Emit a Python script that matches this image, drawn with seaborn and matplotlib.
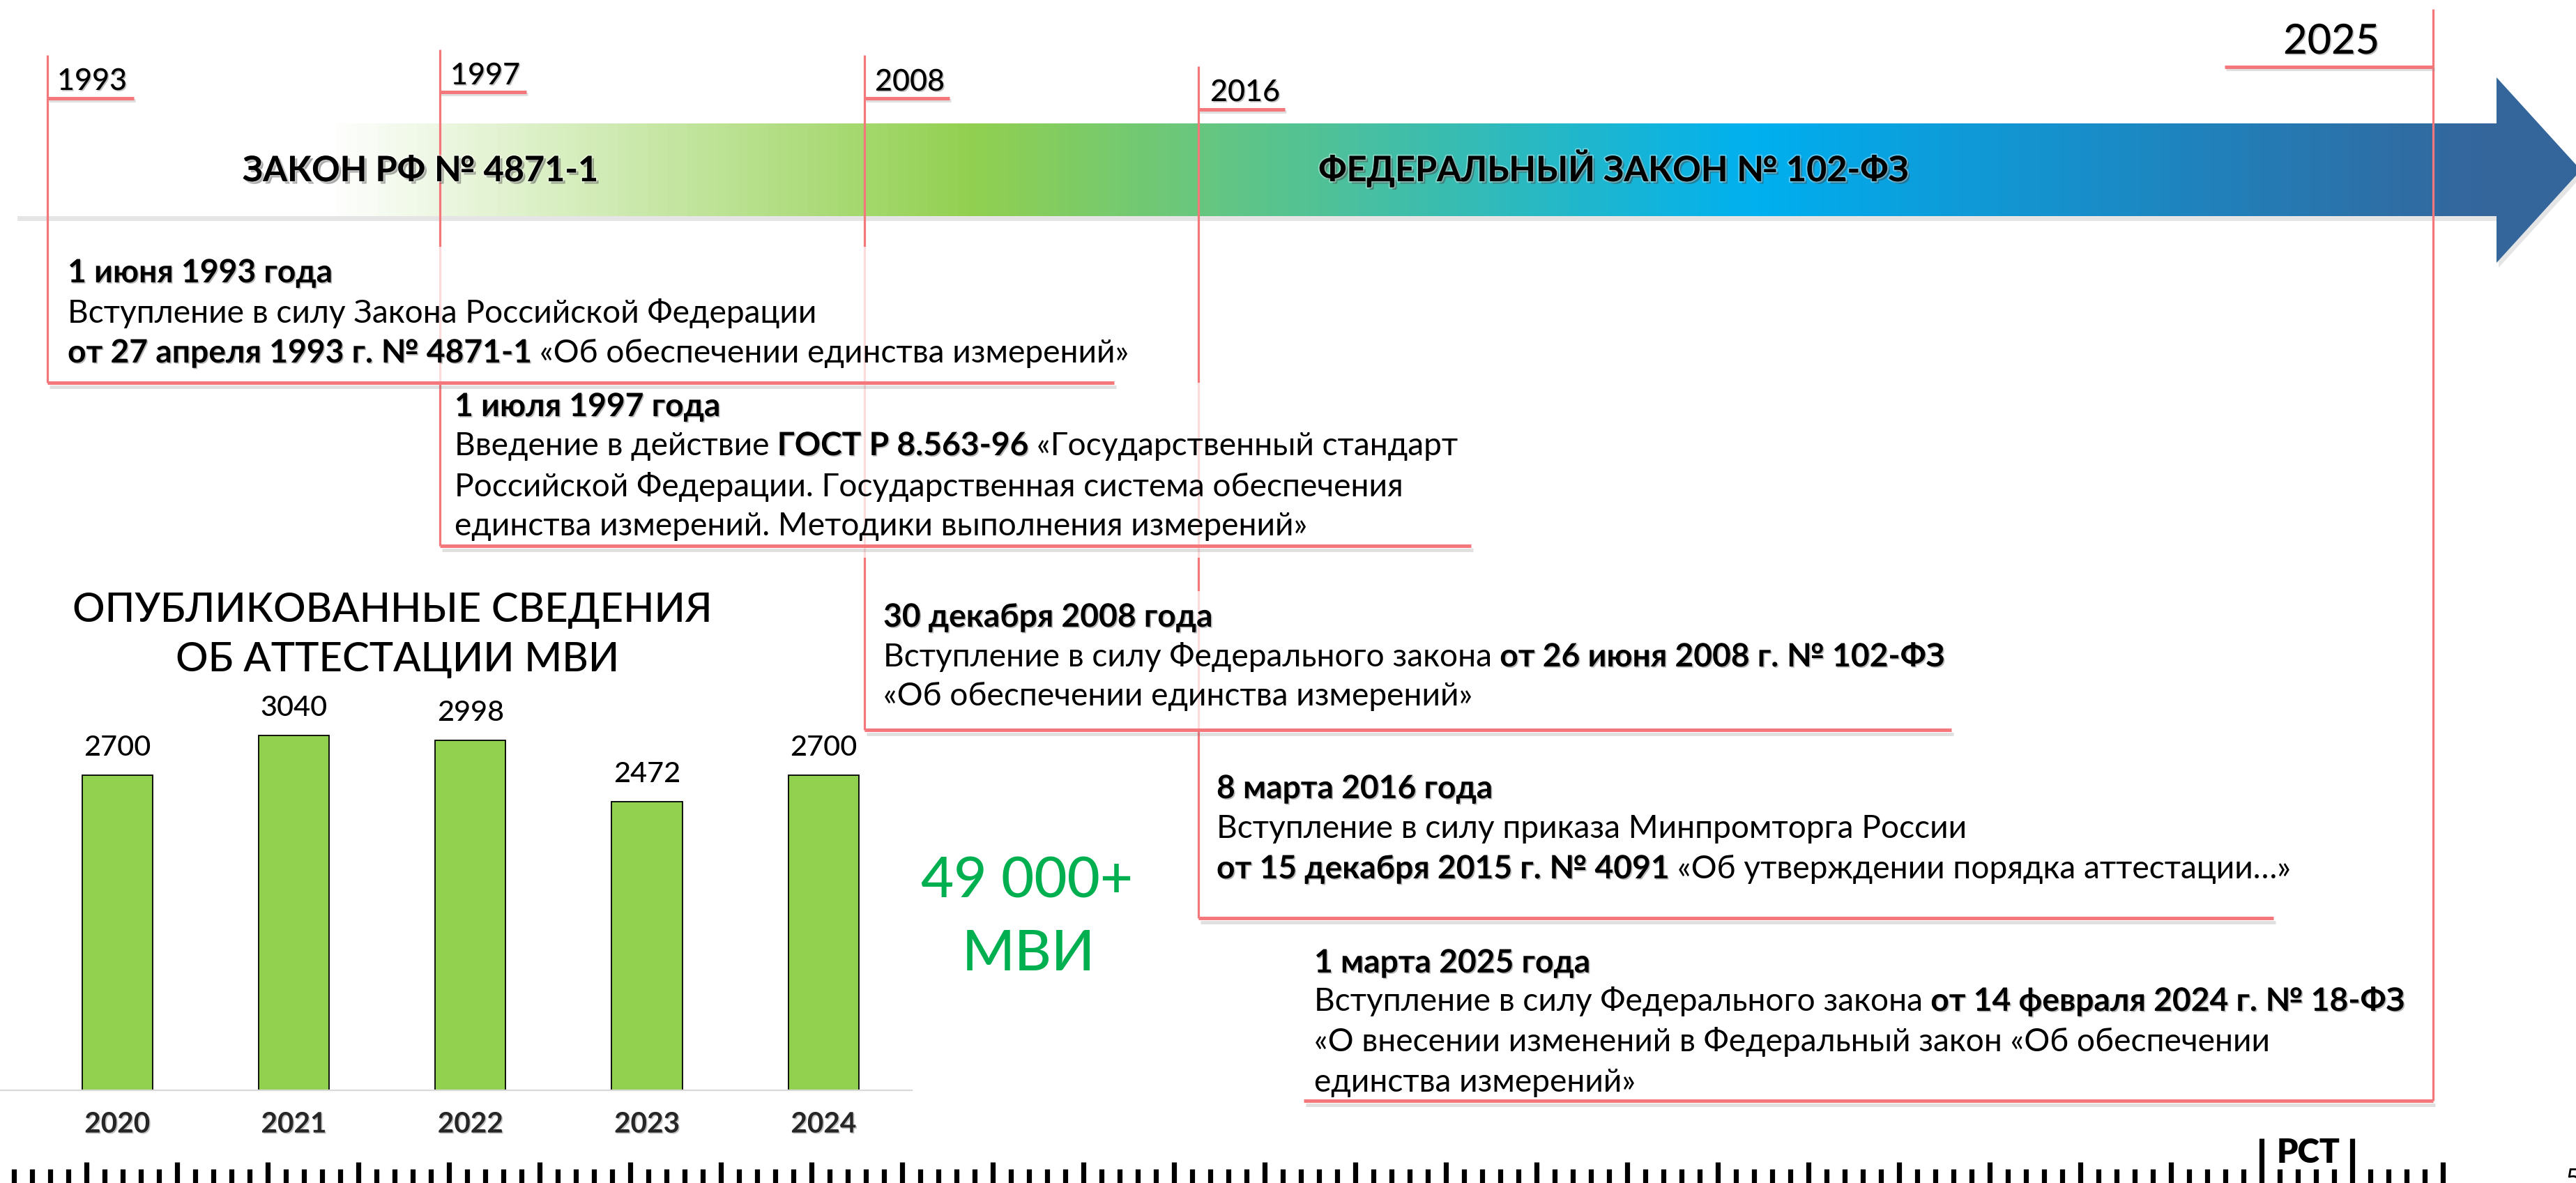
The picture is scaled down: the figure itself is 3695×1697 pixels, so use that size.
import numpy as np
import matplotlib
matplotlib.use("Agg")
import matplotlib.pyplot as plt
import matplotlib.patheffects as pe
from matplotlib.colors import LinearSegmentedColormap
from matplotlib.patches import Polygon, Rectangle
import seaborn as sns

# ---------------- data ----------------
years = ["2020", "2021", "2022", "2023", "2024"]
mvi_counts = [2700, 3040, 2998, 2472, 2700]
chart_title = ["ОПУБЛИКОВАННЫЕ СВЕДЕНИЯ", "ОБ АТТЕСТАЦИИ МВИ"]
total_label = ["49 000+", "МВИ"]

milestone_years = ["1993", "1997", "2008", "2016", "2025"]
arrow_labels = ["ЗАКОН РФ № 4871-1", "ФЕДЕРАЛЬНЫЙ ЗАКОН № 102-ФЗ"]

event_1993 = [[("1 июня 1993 года", "bold")],
              [("Вступление в силу Закона Российской Федерации", "normal")],
              [("от 27 апреля 1993 г. № 4871-1", "bold"), ("«Об обеспечении единства измерений»", "normal")]]
event_1997 = [[("1 июля 1997 года", "bold")],
              [("Введение в действие", "normal"), ("ГОСТ Р 8.563-96", "bold"), ("«Государственный стандарт", "normal")],
              [("Российской Федерации. Государственная система обеспечения", "normal")],
              [("единства измерений. Методики выполнения измерений»", "normal")]]
event_2008 = [[("30 декабря 2008 года", "bold")],
              [("Вступление в силу Федерального закона", "normal"), ("от 26 июня 2008 г. № 102-ФЗ", "bold")],
              [("«Об обеспечении единства измерений»", "normal")]]
event_2016 = [[("8 марта 2016 года", "bold")],
              [("Вступление в силу приказа Минпромторга России", "normal")],
              [("от 15 декабря 2015 г. № 4091", "bold"), ("«Об утверждении порядка аттестации…»", "normal")]]
event_2025 = [[("1 марта 2025 года", "bold")],
              [("Вступление в силу Федерального закона", "normal"), ("от 14 февраля 2024 г. № 18-ФЗ", "bold")],
              [("«О внесении изменений в Федеральный закон «Об обеспечении", "normal")],
              [("единства измерений»", "normal")]]
events = [event_1993, event_1997, event_2008, event_2016, event_2025]

# ---------------- layout (pixel units) ----------------
W, H = 3695, 1697
RED = "#F4787B"
GREEN_BAR = "#92D050"
GREEN_TXT = "#00B050"

sns.set_theme(style="white")
plt.rcParams["font.family"] = ["Lato", "DejaVu Sans"]

fig = plt.figure(figsize=(W / 100, H / 100), dpi=100)
fig.patch.set_facecolor("white")

# ---- bar chart ----
base_y, top_y = 1564, 995
axb = fig.add_axes([0, (H - base_y) / H, 1308 / W, (base_y - top_y) / H])
axb.patch.set_alpha(0)
sns.barplot(x=years, y=mvi_counts, color=GREEN_BAR, saturation=1, width=0.4,
            edgecolor="black", linewidth=1.3, ax=axb)
axb.set_xlim(-0.664, 4.5)
axb.set_ylim(0, 3400)
for s in ["left", "top", "right"]:
    axb.spines[s].set_visible(False)
axb.spines["bottom"].set_color("#D9D9D9")
axb.spines["bottom"].set_linewidth(1.6)
axb.set_yticks([])
axb.set_xlabel("")
axb.set_ylabel("")

# ---- overlay ----
ov = fig.add_axes([0, 0, 1, 1])
ov.set_xlim(0, W)
ov.set_ylim(H, 0)
ov.axis("off")
renderer = fig.canvas.get_renderer()


def text_w(s, size, weight="normal"):
    t = ov.text(0, 0, s, fontsize=size, fontweight=weight)
    w = t.get_window_extent(renderer).width
    t.remove()
    return w


def fit(s, target, weight="normal"):
    return 100.0 * target / text_w(s, 100, weight)


# value / tick labels for bar chart
val_size = fit("2700", 96, "medium")
tick_size = fit("2020", 94, "bold")
axb.bar_label(axb.containers[0], labels=[str(v) for v in mvi_counts],
              padding=15, fontsize=val_size, fontweight="medium", color="black")
axb.tick_params(axis="x", length=0, pad=22, labelsize=tick_size)
for lab in axb.get_xticklabels():
    lab.set_fontweight("bold")
    lab.set_path_effects([pe.withSimplePatchShadow(offset=(1.2, -1.2), alpha=0.25)])

# ---- gradient arrow ----
arrow_xy = [(22, 177), (3581, 177), (3581, 111), (3702, 244), (3581, 377), (3581, 310), (22, 310)]
shadow_xy = [(x + 3, y + 7) for x, y in arrow_xy]
ov.add_patch(Polygon(shadow_xy, closed=True, facecolor="0.55", edgecolor="none", alpha=0.22, zorder=1))
poly = Polygon(arrow_xy, closed=True, facecolor="none", edgecolor="none", zorder=2)
ov.add_patch(poly)
L, R = 22, 3702
def frac(x):
    return (x - L) / (R - L)
cmap = LinearSegmentedColormap.from_list("arr", [
    (0.0, "#FFFFFF"), (frac(470), "#FFFFFF"), (frac(1390), "#92D050"),
    (frac(2520), "#00B0F0"), (frac(3560), "#34669C"), (1.0, "#34669C")])
grad = np.linspace(0, 1, 1200).reshape(1, -1)
im = ov.imshow(grad, cmap=cmap, extent=(L, R, 377, 111), aspect="auto", zorder=2,
               interpolation="bilinear")
im.set_clip_path(poly)

arrow_fx = [pe.SimplePatchShadow(offset=(2.5, -2.5), shadow_rgbFace="0.25", alpha=0.45),
            pe.Stroke(linewidth=3, foreground=(1, 1, 1, 0.35)), pe.Normal()]
arr_size = fit(arrow_labels[0], 510, "bold")
ov.text(603, 260, arrow_labels[0], ha="center", va="baseline", fontsize=arr_size,
        fontweight="bold", color="black", zorder=6, path_effects=arrow_fx)
ov.text(2314, 260, arrow_labels[1], ha="center", va="baseline", fontsize=arr_size,
        fontweight="bold", color="black", zorder=6, path_effects=arrow_fx)

# ---- year markers ----
line_fx = [pe.SimpleLineShadow(offset=(1.5, -2), shadow_color="0.5", alpha=0.25), pe.Normal()]
vlines = [(68, 79, 549), (631, 71, 783), (1240, 79, 1047), (1719, 95, 1317), (3490, 13, 1579)]
for x, y0, y1 in vlines:
    ov.plot([x, x], [y0, y1], color=RED, lw=2.3, zorder=3, solid_capstyle="butt")

underlines = [(141, 68, 192), (132, 631, 755), (141, 1240, 1362), (157, 1719, 1843), (96, 3191, 3490)]
for y, x0, x1 in underlines:
    ov.plot([x0, x1], [y, y], color=RED, lw=3.6, zorder=5, solid_capstyle="butt",
            path_effects=line_fx)

yr_size = fit("1993", 100, "medium")
yr_big = fit("2025", 138, "medium")
year_fx = [pe.withSimplePatchShadow(offset=(1.2, -1.2), alpha=0.25)]
year_pos = [(82, 129, "left"), (646, 121, "left"), (1255, 130, "left"), (1736, 145, "left"), (3344, 77, "center")]
for lbl, (x, y, ha) in zip(milestone_years, year_pos):
    ov.text(x, y, lbl, ha=ha, va="baseline", fontsize=yr_big if lbl == "2025" else yr_size,
            fontweight="medium", color="black", zorder=6, path_effects=year_fx)

# ---- event boxes ----
boxes = [(72, 1600, 354, 549), (635, 2112, 549, 800), (1244, 2800, 848, 1047),
         (1723, 3263, 1060, 1317), (1870, 3486, 1340, 1579)]
for x0, x1, y0, y1 in boxes:
    ov.add_patch(Rectangle((x0, y0), x1 - x0, y1 - y0, facecolor="white", edgecolor="none",
                           alpha=0.74, zorder=4))

bottoms = [(549, 68, 1598), (783, 631, 2110), (1047, 1240, 2799), (1317, 1719, 3261), (1579, 1870, 3490)]
for y, x0, x1 in bottoms:
    ov.plot([x0, x1], [y, y], color=RED, lw=3.6, zorder=5, solid_capstyle="butt",
            path_effects=[pe.SimpleLineShadow(offset=(2, -4), shadow_color="0.45", alpha=0.22), pe.Normal()])

body_size = fit("Вступление в силу Закона Российской Федерации", 1077)
space_w = {w: text_w("н н", body_size, w) - text_w("нн", body_size, w) for w in ["normal", "bold"]}
bold_fx = [pe.withSimplePatchShadow(offset=(1.2, -1.2), alpha=0.28)]


def draw_line(x, y, parts):
    cur = x
    for i, (s, wgt) in enumerate(parts):
        if i > 0:
            cur += space_w[wgt]
        ov.text(cur, y, s, ha="left", va="baseline", fontsize=body_size, fontweight=wgt,
                color="black", zorder=6, path_effects=bold_fx if wgt == "bold" else None)
        cur += text_w(s, body_size, wgt)


event_pos = [(97, [405, 463, 520]), (652, [597, 653, 712, 768]), (1267, [899, 956, 1012]),
             (1745, [1145, 1202, 1260]), (1885, [1395, 1450, 1508, 1566])]
for ev, (x, ys) in zip(events, event_pos):
    for parts, y in zip(ev, ys):
        draw_line(x, y, parts)

# ---- chart title and total ----
title_size = fit(chart_title[0], 917, "medium")
ov.text(563, 892, chart_title[0], ha="center", va="baseline", fontsize=title_size,
        fontweight="medium", color="black", zorder=6)
ov.text(570, 963, chart_title[1], ha="center", va="baseline", fontsize=title_size,
        fontweight="medium", color="black", zorder=6)
big_size = fit(total_label[0], 304, "medium")
ov.text(1473, 1287, total_label[0], ha="center", va="baseline", fontsize=big_size,
        fontweight="medium", color=GREEN_TXT, zorder=6)
ov.text(1475, 1392, total_label[1], ha="center", va="baseline", fontsize=big_size,
        fontweight="medium", color=GREEN_TXT, zorder=6)

# ---- bottom ruler and logo ----
tick_x = np.arange(20, 3509, 26)
for k, x in enumerate(tick_x):
    if x in (3244, 3374):
        y0 = 1633
    elif (k - 4) % 5 == 0:
        y0 = 1667
    else:
        y0 = 1677
    ov.plot([x, x], [y0, H + 5], color="black", lw=5.2, solid_capstyle="butt", zorder=6)
logo_size = fit("РСТ", 91, "heavy")
ov.text(3311, 1668, "РСТ", ha="center", va="baseline", fontsize=logo_size, fontweight="heavy",
        color="black", zorder=6)
ov.text(3680, 1704, "5", ha="left", va="baseline", fontsize=28, color="black", zorder=6)

ov.set_xlim(0, W)
ov.set_ylim(H, 0)
fig.savefig("out.png", dpi=100, facecolor="white")
